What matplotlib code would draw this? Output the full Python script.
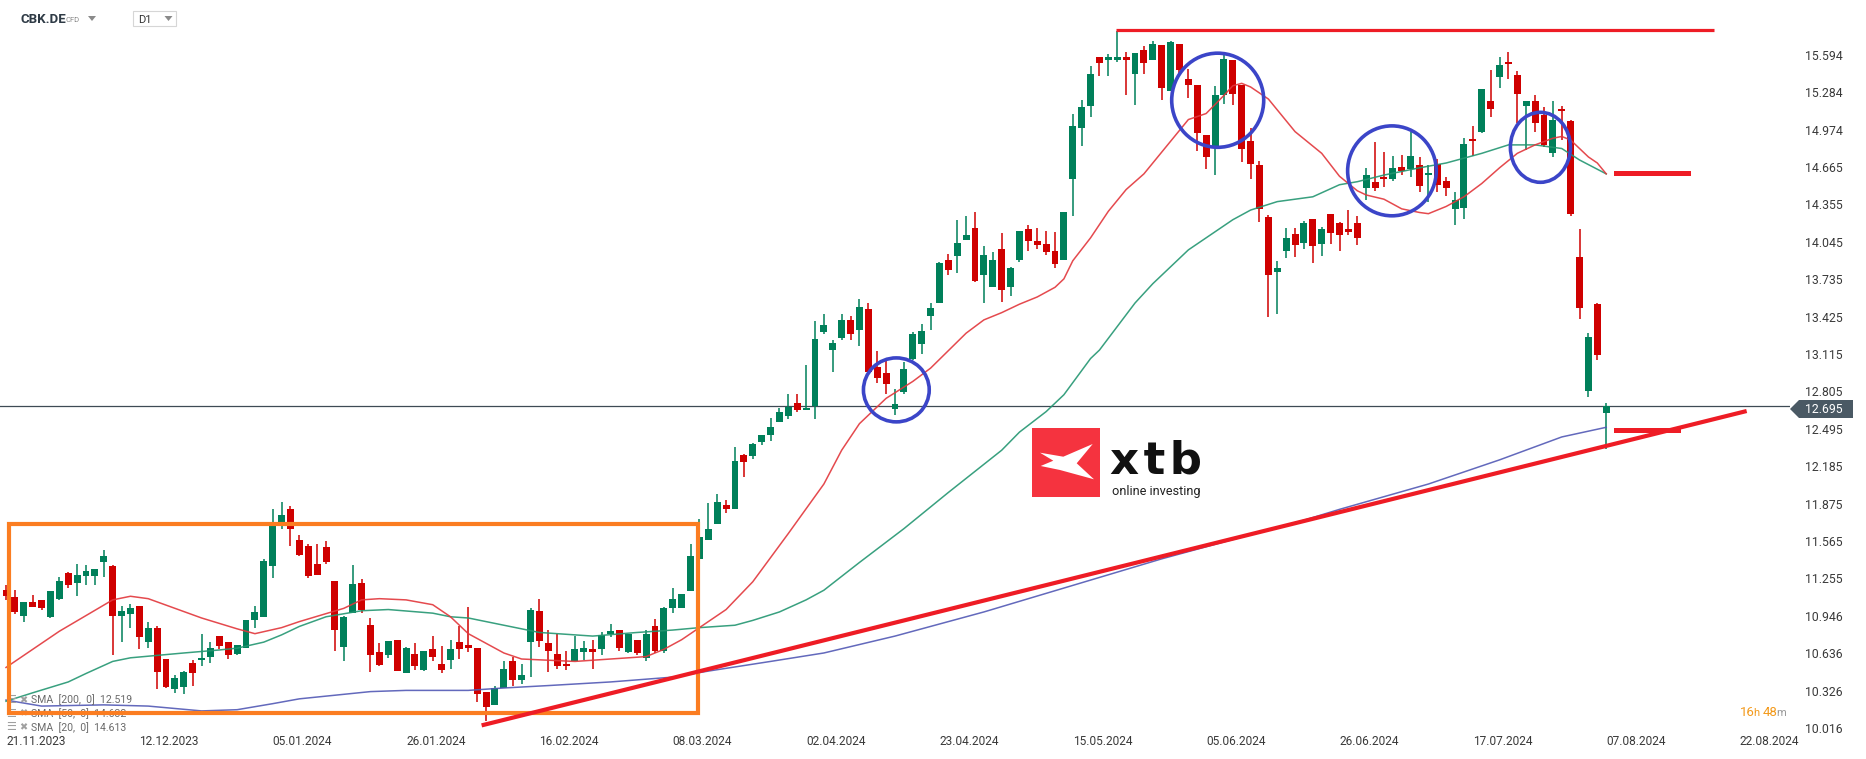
import matplotlib
matplotlib.use("Agg")
import matplotlib.pyplot as plt
from matplotlib.patches import Rectangle, Ellipse, Polygon
from matplotlib.transforms import blended_transform_factory as blend

plt.rcParams['font.family'] = ['Roboto', 'DejaVu Sans']

# ---------------- data ----------------
opens = [11.17, 11.11, 10.96, 11.07, 11.09, 10.95, 11.10, 11.31, 11.23, 11.29,
         11.29, 11.40, 11.37, 10.96, 10.97, 11.04, 10.74, 10.86, 10.60, 10.35,
         10.37, 10.57, 10.59, 10.62, 10.79, 10.74, 10.64, 10.69, 10.92, 10.95,
         11.37, 11.71, 11.84, 11.59, 11.54, 11.39, 11.53, 11.25, 10.70, 10.98,
         11.23, 10.88, 10.66, 10.63, 10.76, 10.48, 10.64, 10.51, 10.68, 10.56,
         10.59, 10.74, 10.72, 10.69, 10.33, 10.22, 10.36, 10.58, 10.43, 10.74,
         11.00, 10.73, 10.64, 10.56, 10.58, 10.66, 10.68, 10.68, 10.81, 10.84,
         10.66, 10.76, 10.61, 10.87, 10.67, 11.02, 11.02, 11.16, 11.43, 11.59,
         11.72, 11.88, 11.84, 12.29, 12.28, 12.40, 12.46, 12.56, 12.61, 12.72,
         12.66, 12.70, 13.31, 13.16, 13.26, 13.41, 13.33, 13.50, 13.02, 12.97,
         12.67, 12.81, 13.09, 13.21, 13.44, 13.55, 13.91, 13.94, 14.07, 14.17,
         13.78, 13.68, 14.00, 13.68, 13.91, 14.16, 14.06, 14.04, 13.98, 13.91,
         14.58, 15.00, 15.18, 15.59, 15.56, 15.56, 15.59, 15.45, 15.65, 15.56,
         15.69, 15.31, 15.70, 15.41, 15.36, 14.94, 14.85, 15.27, 15.56, 15.36,
         14.89, 14.69, 14.26, 13.81, 13.98, 14.12, 14.05, 14.25, 14.04, 14.29,
         14.21, 14.16, 14.21, 14.50, 14.55, 14.59, 14.58, 14.68, 14.66, 14.69,
         14.61, 14.70, 14.56, 14.33, 14.34, 14.91, 14.97, 15.22, 15.42, 15.55,
         15.44, 15.18, 15.22, 15.11, 14.79, 15.16, 15.06, 13.93, 12.82, 13.54,
         12.64]
highs = [11.21, 11.17, 11.07, 11.13, 11.09, 11.16, 11.28, 11.32, 11.39, 11.38,
         11.35, 11.50, 11.38, 11.04, 11.06, 11.04, 10.91, 10.87, 10.60, 10.47,
         10.50, 10.59, 10.81, 10.74, 10.79, 10.74, 10.72, 10.92, 11.04, 11.43,
         11.84, 11.90, 11.87, 11.63, 11.55, 11.55, 11.58, 11.25, 10.96, 11.38,
         11.26, 10.94, 10.73, 10.75, 10.76, 10.70, 10.73, 10.67, 10.79, 10.71,
         10.76, 10.87, 11.03, 10.69, 10.33, 10.38, 10.58, 10.62, 10.56, 11.02,
         11.10, 10.84, 10.81, 10.67, 10.79, 10.75, 10.76, 10.82, 10.89, 10.84,
         10.81, 10.76, 10.84, 10.93, 11.03, 11.19, 11.14, 11.55, 11.76, 11.89,
         11.97, 11.92, 12.36, 12.30, 12.39, 12.46, 12.60, 12.68, 12.80, 12.80,
         13.04, 13.40, 13.46, 13.24, 13.46, 13.44, 13.58, 13.55, 13.15, 13.09,
         12.84, 13.06, 13.31, 13.38, 13.55, 13.89, 13.96, 14.24, 14.27, 14.30,
         14.02, 13.97, 14.13, 13.85, 14.15, 14.20, 14.17, 14.15, 14.14, 14.30,
         15.12, 15.23, 15.51, 15.59, 15.61, 15.80, 15.63, 15.62, 15.68, 15.72,
         15.69, 15.72, 15.70, 15.49, 15.36, 14.94, 15.35, 15.63, 15.56, 15.36,
         15.00, 14.73, 14.28, 13.90, 14.17, 14.17, 14.23, 14.25, 14.18, 14.29,
         14.22, 14.32, 14.27, 14.67, 14.88, 14.80, 14.77, 14.78, 14.97, 14.76,
         14.69, 14.74, 14.59, 14.47, 14.92, 15.02, 15.32, 15.48, 15.59, 15.63,
         15.47, 15.22, 15.27, 15.17, 15.22, 15.18, 15.07, 14.16, 13.30, 13.55,
         12.72]
lows = [11.09, 10.97, 10.91, 11.03, 11.01, 10.94, 11.09, 11.19, 11.12, 11.21,
        11.21, 11.28, 10.63, 10.74, 10.86, 10.68, 10.69, 10.35, 10.36, 10.32,
        10.31, 10.38, 10.54, 10.57, 10.68, 10.60, 10.63, 10.69, 10.86, 10.95,
        11.27, 11.68, 11.54, 11.45, 11.27, 11.30, 11.39, 10.67, 10.58, 10.98,
        10.98, 10.49, 10.54, 10.61, 10.50, 10.48, 10.51, 10.50, 10.58, 10.48,
        10.52, 10.60, 10.66, 10.24, 10.09, 10.22, 10.36, 10.38, 10.39, 10.45,
        10.70, 10.49, 10.52, 10.51, 10.58, 10.59, 10.52, 10.63, 10.78, 10.67,
        10.65, 10.63, 10.58, 10.65, 10.65, 10.98, 11.02, 11.16, 11.43, 11.59,
        11.72, 11.81, 11.84, 12.11, 12.26, 12.37, 12.41, 12.56, 12.59, 12.65,
        12.66, 12.59, 13.29, 12.98, 13.24, 13.24, 13.19, 12.98, 12.89, 12.80,
        12.62, 12.80, 13.08, 13.13, 13.33, 13.55, 13.78, 13.80, 14.07, 13.72,
        13.55, 13.68, 13.56, 13.61, 13.89, 13.98, 14.00, 13.95, 13.84, 13.91,
        14.27, 14.85, 15.09, 15.43, 15.43, 15.55, 15.27, 15.19, 15.45, 15.56,
        15.23, 15.31, 15.44, 15.25, 14.81, 14.66, 14.61, 15.20, 15.19, 14.72,
        14.58, 14.22, 13.43, 13.46, 13.92, 13.93, 14.00, 13.88, 13.94, 14.04,
        13.98, 14.11, 14.03, 14.40, 14.48, 14.51, 14.56, 14.61, 14.59, 14.47,
        14.39, 14.47, 14.44, 14.20, 14.25, 14.77, 14.96, 15.09, 15.33, 15.41,
        15.04, 14.82, 14.97, 14.84, 14.76, 14.90, 14.27, 13.42, 12.77, 13.08,
        12.34]
closes = [11.12, 10.99, 11.07, 11.03, 11.02, 11.16, 11.25, 11.21, 11.30, 11.33,
          11.35, 11.45, 10.96, 11.00, 11.02, 10.78, 10.86, 10.49, 10.37, 10.44,
          10.49, 10.48, 10.61, 10.69, 10.71, 10.63, 10.72, 10.92, 10.99, 11.41,
          11.70, 11.79, 11.68, 11.46, 11.29, 11.30, 11.40, 10.84, 10.95, 11.22,
          11.01, 10.63, 10.55, 10.75, 10.50, 10.69, 10.54, 10.67, 10.62, 10.51,
          10.68, 10.68, 10.69, 10.31, 10.20, 10.36, 10.52, 10.43, 10.47, 11.01,
          10.75, 10.67, 10.54, 10.54, 10.68, 10.69, 10.66, 10.80, 10.83, 10.69,
          10.81, 10.65, 10.81, 10.67, 11.02, 11.10, 11.14, 11.45, 11.61, 11.68,
          11.90, 11.84, 12.24, 12.23, 12.38, 12.46, 12.52, 12.65, 12.69, 12.66,
          12.68, 13.25, 13.37, 13.22, 13.41, 13.29, 13.52, 12.98, 12.93, 12.88,
          12.71, 13.00, 13.29, 13.32, 13.51, 13.88, 13.82, 14.05, 14.11, 13.73,
          13.95, 13.91, 13.66, 13.84, 14.15, 14.06, 14.03, 13.97, 13.87, 14.30,
          15.02, 15.17, 15.45, 15.54, 15.59, 15.59, 15.56, 15.62, 15.54, 15.70,
          15.33, 15.71, 15.48, 15.36, 14.96, 14.76, 15.27, 15.57, 15.28, 14.83,
          14.70, 14.33, 13.78, 13.84, 14.09, 14.03, 14.21, 14.02, 14.16, 14.13,
          14.11, 14.14, 14.09, 14.61, 14.50, 14.58, 14.67, 14.64, 14.77, 14.52,
          14.63, 14.53, 14.50, 14.40, 14.87, 14.89, 15.32, 15.16, 15.52, 15.53,
          15.28, 15.22, 15.04, 14.86, 15.07, 15.14, 14.29, 13.51, 13.27, 13.12,
          12.695]

sma20_idx = [0, 6, 12, 14, 16, 22, 26, 28, 31, 33, 38, 40, 42, 45, 48, 50, 52, 56, 58, 61,
             64, 68, 72, 74, 76, 78, 81, 84, 88, 92, 94, 96, 99, 102, 104, 108, 110, 112, 114, 116,
             118, 119, 120, 122, 124, 126, 128, 130, 132, 133, 135, 137, 138, 139, 140, 142, 145, 148, 150, 152,
             153, 155, 157, 159, 160, 162, 164, 166, 168, 170, 172, 174, 175, 176, 178, 179, 180]
sma20_val = [10.53, 10.83, 11.09, 11.12, 11.10, 10.94, 10.85, 10.81, 10.86, 10.91, 11.02, 11.09, 11.10, 11.09, 11.05, 10.95, 10.81, 10.65, 10.60, 10.59,
             10.58, 10.60, 10.62, 10.68, 10.76, 10.86, 11.01, 11.24, 11.64, 12.05, 12.33, 12.55, 12.76, 12.90, 13.01, 13.30, 13.41, 13.47, 13.54, 13.60,
             13.68, 13.75, 13.90, 14.09, 14.31, 14.49, 14.62, 14.80, 14.98, 15.07, 15.12, 15.27, 15.35, 15.37, 15.34, 15.24, 14.97, 14.79, 14.60, 14.48,
             14.445, 14.41, 14.33, 14.30, 14.29, 14.35, 14.43, 14.54, 14.67, 14.79, 14.86, 14.915, 14.93, 14.90, 14.76, 14.71, 14.62]

sma50_idx = [0, 3, 7, 9, 12, 14, 17, 20, 24, 26, 29, 31, 33, 36, 40, 43, 48, 50, 52, 56,
             60, 66, 71, 75, 78, 82, 84, 87, 90, 92, 96, 101, 106, 112, 114, 117, 119, 122, 123, 127,
             129, 133, 138, 140, 143, 147, 150, 152, 155, 159, 162, 166, 169, 172, 175, 177, 180]
sma50_val = [10.25, 10.32, 10.41, 10.48, 10.58, 10.61, 10.63, 10.65, 10.675, 10.69, 10.74, 10.80, 10.87, 10.95, 11.00, 11.01, 10.98, 10.95, 10.94, 10.88,
             10.82, 10.79, 10.82, 10.84, 10.86, 10.88, 10.92, 10.99, 11.09, 11.17, 11.40, 11.68, 11.98, 12.33, 12.48, 12.65, 12.79, 13.09, 13.16, 13.55,
             13.71, 13.99, 14.24, 14.32, 14.39, 14.43, 14.53, 14.555, 14.61, 14.67, 14.71, 14.79, 14.86, 14.86, 14.83, 14.735, 14.62]

sma200_idx = [0, 4, 11, 16, 22, 26, 30, 33, 37, 41, 45, 52, 56, 61, 68, 75, 79, 86, 92, 100,
              110, 120, 130, 140, 146, 150, 160, 168, 175, 180]
sma200_val = [10.26, 10.21, 10.22, 10.21, 10.17, 10.18, 10.23, 10.27, 10.30, 10.33, 10.34, 10.34, 10.36, 10.38, 10.41, 10.45, 10.50, 10.58, 10.65, 10.79,
              10.99, 11.21, 11.43, 11.63, 11.75, 11.84, 12.05, 12.25, 12.44, 12.52]

date_labels = ["21.11.2023", "12.12.2023", "05.01.2024", "26.01.2024", "16.02.2024",
               "08.03.2024", "02.04.2024", "23.04.2024", "15.05.2024", "05.06.2024",
               "26.06.2024", "17.07.2024", "07.08.2024", "22.08.2024"]
date_idx = [0, 15, 30, 45, 60, 75, 90, 105, 120, 135, 150, 165, 180, 195]

price_ticks = [10.016, 10.326, 10.636, 10.946, 11.255, 11.565, 11.875, 12.185, 12.495,
               12.805, 13.115, 13.425, 13.735, 14.045, 14.355, 14.665, 14.974, 15.284, 15.594]
last_price = 12.695

legend_labels = ["SMA  [200,  0]  12.519", "SMA  [50,  0]  14.632", "SMA  [20,  0]  14.613"]

# annotations (drawn by the analyst)
trend_idx = [53.5, 195.8]
trend_val = [10.05, 12.655]
resist_idx = [124.9, 192.1]
resist_val = 15.81
level_hi_idx = [181.1, 189.2]
level_hi_val = 14.63
level_lo_idx = [181.1, 188.1]
level_lo_val = 12.50
box_idx = [0.34, 77.8]
box_val = [10.153, 11.719]
circles = [(100.15, 12.83, 7.4, 0.53), (136.3, 15.23, 10.35, 0.78),
           (155.9, 14.645, 9.97, 0.745), (172.6, 14.84, 6.75, 0.58)]

# ---------------- figure ----------------
W, H, DPI = 1866, 759, 100
fig = plt.figure(figsize=(W / DPI, H / DPI), dpi=DPI)
fig.patch.set_facecolor("white")

AX_R, AX_B = 1790, 735
ax = fig.add_axes([0, 1 - AX_B / H, AX_R / W, AX_B / H])
ax.set_axis_off()
CPX, X0 = 8.89, 6.0
ax.set_xlim(-X0 / CPX, (AX_R - X0) / CPX)
ax.set_ylim(9.9704, 16.0606)

def fx(x):
    return x / W

def fy(y):
    return 1 - y / H

GREEN = "#00805a"
RED = "#cf0000"

for i, (o, h, l, c) in enumerate(zip(opens, highs, lows, closes)):
    col = GREEN if c >= o else RED
    ax.vlines(i, l, h, color=col, lw=1.1, zorder=3)
    bottom = min(o, c)
    hgt = max(abs(c - o), 0.014)
    ax.add_patch(Rectangle((i - 0.39, bottom), 0.78, hgt, facecolor=col,
                           edgecolor="none", zorder=4))

ax.plot(sma200_idx, sma200_val, color="#5259b5", lw=1.1, zorder=5, alpha=0.9)
ax.plot(sma50_idx, sma50_val, color="#239671", lw=1.1, zorder=5, alpha=0.9)
ax.plot(sma20_idx, sma20_val, color="#e2363b", lw=1.1, zorder=5, alpha=0.9)

# current price line
ax.axhline(last_price, color="#3e4a55", lw=0.9, zorder=2)

# annotations
ax.plot(trend_idx, trend_val, color="#ee1c25", lw=3.0, zorder=7, solid_capstyle="butt")
ax.plot(resist_idx, [resist_val] * 2, color="#ee1c25", lw=2.3, zorder=7, solid_capstyle="butt")
ax.plot(level_hi_idx, [level_hi_val] * 2, color="#ee1c25", lw=3.6, zorder=7)
ax.plot(level_lo_idx, [level_lo_val] * 2, color="#ee1c25", lw=3.6, zorder=7)
ax.add_patch(Rectangle((box_idx[0], box_val[0]), box_idx[1] - box_idx[0], box_val[1] - box_val[0],
                       fill=False, edgecolor="#fb7d21", lw=3.0, zorder=6.5))
for cx, cy, w, h in circles:
    ax.add_patch(Ellipse((cx, cy), w, h, fill=False, edgecolor="#3b45c8", lw=2.6, zorder=8))

# legend (under the orange box line)
tl = blend(fig.transFigure, fig.transFigure)
for k, lab in enumerate(legend_labels):
    yy = fy(700 + k * 13.6)
    ax.text(fx(6), yy, "\u2630", transform=tl, fontsize=8, color="#a0a0a0",
            va="center", ha="left", zorder=6, family=["DejaVu Sans"])
    ax.text(fx(19), yy, "\u2716", transform=tl, fontsize=7, color="#a0a0a0",
            va="center", ha="left", zorder=6, family=["DejaVu Sans"])
    ax.text(fx(31), yy, lab, transform=tl, fontsize=7.6, color="#6b6b6b",
            va="center", ha="left", zorder=6)

# y tick labels
ty = blend(fig.transFigure, ax.transData)
for p in price_ticks:
    fig.text(fx(1805), 0, f"{p:.3f}", transform=ty, fontsize=8.8, color="#3a3a3a",
             va="center", ha="left").set_y(p)

# price tag
tag = Polygon([(fx(1790), fy(409)), (fx(1799), fy(400)), (fx(1853), fy(400)),
               (fx(1853), fy(418)), (fx(1799), fy(418))], closed=True,
              transform=fig.transFigure, facecolor="#4a5964", edgecolor="none")
fig.patches.append(tag)
fig.text(fx(1805), fy(409.5), f"{last_price:.3f}", fontsize=8.8, color="white",
         va="center", ha="left")

# date labels
tx = blend(ax.transData, fig.transFigure)
for i, lab in zip(date_idx, date_labels):
    ax.text(i, fy(741.5), lab, transform=tx, fontsize=8.6, color="#3a3a3a",
            va="center", ha="left", clip_on=False)

# countdown
fig.text(fx(1740), fy(712), "16", fontsize=9.5, color="#f39a1c", va="center", ha="left")
fig.text(fx(1753.5), fy(712.5), "h", fontsize=8, color="#f39a1c", va="center", ha="left")
fig.text(fx(1763), fy(712), "48", fontsize=9.5, color="#f39a1c", va="center", ha="left")
fig.text(fx(1776.5), fy(712.5), "m", fontsize=8, color="#9a9a9a", va="center", ha="left")

# header
fig.text(fx(20.5), fy(19.5), "CBK.DE", fontsize=9.5, fontweight="bold", color="#2f3b46",
         va="center", ha="left")
fig.text(fx(65), fy(19.5), "CFD", fontsize=5.5, color="#8a8a8a", va="center", ha="left")
fig.patches.append(Polygon([(fx(88), fy(16)), (fx(96), fy(16)), (fx(92), fy(21))],
                           transform=fig.transFigure, facecolor="#8a8a8a", edgecolor="none"))
fig.patches.append(Rectangle((fx(133), fy(25.7)), 43 / W, 15 / H, transform=fig.transFigure,
                             facecolor="white", edgecolor="#d6d6d6", lw=0.8))
fig.text(fx(138), fy(19.8), "D1", fontsize=8, color="#333333", va="center", ha="left")
fig.patches.append(Polygon([(fx(164.5), fy(16)), (fx(172.5), fy(16)), (fx(168.5), fy(21))],
                           transform=fig.transFigure, facecolor="#8a8a8a", edgecolor="none"))

# xtb logo
fig.patches.append(Rectangle((fx(1032), fy(497)), 68 / W, 69 / H, transform=fig.transFigure,
                             facecolor="#f5333f", edgecolor="none", zorder=9))
xpts = [(1040, 452.7), (1063.3, 456.7), (1092.7, 444), (1076.7, 463.3), (1094, 479.3),
        (1060, 470), (1040.7, 466), (1053.3, 460.7)]
fig.patches.append(Polygon([(fx(a), fy(b)) for a, b in xpts], closed=True,
                           transform=fig.transFigure, facecolor="white", edgecolor="none", zorder=10))
fig.text(fx(1110), fy(473), "x\u200at\u200ab", fontsize=32.5, fontweight="bold", color="#111111",
         va="baseline", ha="left", family=["DejaVu Sans"])
fig.text(fx(1112), fy(491), "online investing", fontsize=9.2, color="#222222",
         va="center", ha="left")

fig.savefig("out.png", dpi=DPI, facecolor="white")
